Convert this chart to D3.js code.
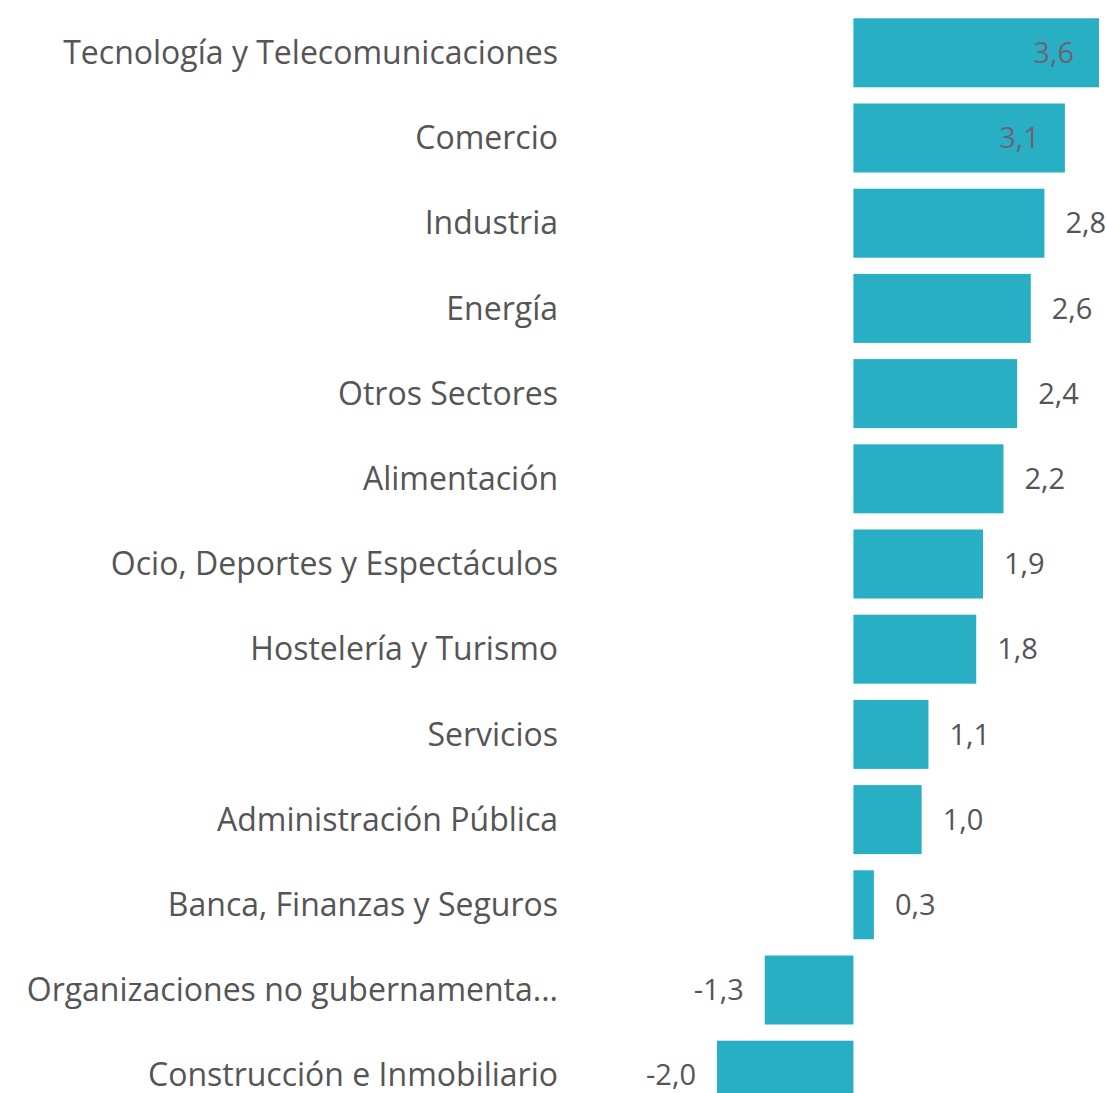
<!DOCTYPE html>
<html>
<head>
<meta charset="utf-8">
<script src="https://cdn.jsdelivr.net/npm/d3@7"></script>
<style>
  body { margin: 0; background: #fff; }
  svg { display: block; }
  .cat-label { font-family: "Open Sans", sans-serif; fill: #555; }
  .val-label { font-family: "Open Sans", sans-serif; }
</style>
</head>
<body>
<svg id="chart"></svg>
<script>
// Sector data
const sectors = [
    "Tecnología y Telecomunicaciones",
    "Comercio",
    "Industria",
    "Energía",
    "Otros Sectores",
    "Alimentación",
    "Ocio, Deportes y Espectáculos",
    "Hostelería y Turismo",
    "Servicios",
    "Administración Pública",
    "Banca, Finanzas y Seguros",
    "Organizaciones no gubernamenta...",
    "Construcción e Inmobiliario"
];
const values = [3.6, 3.1, 2.8, 2.6, 2.4, 2.2, 1.9, 1.8, 1.1, 1.0, 0.3, -1.3, -2.0];

const config = {
    width: 1106,
    height: 1093,
    labelRight: 558,
    barColor: "#29afc4",
    fontSize: 32
};

const data = sectors.map((s, i) => ({ sector: s, value: values[i] }));

const svg = d3.select("#chart")
    .attr("width", config.width)
    .attr("height", config.height);

// row scale
const yScale = d3.scaleBand()
    .domain(sectors)
    .range([10.2, 10.2 + 13 * 85.2])
    .paddingInner(0.19)
    .paddingOuter(0.095);

const xScale = d3.scaleLinear()
    .domain([-2, 3.6])
    .range([717, 1099]);

// comma decimals, plain hyphen for negatives
const fmt = v => d3.format(".1f")(v).replace(".", ",").replace("\u2212", "-");

// category labels
svg.selectAll(".cat-label")
    .data(data)
    .enter()
    .append("text")
    .attr("class", "cat-label")
    .attr("x", config.labelRight)
    .attr("y", d => yScale(d.sector) + yScale.bandwidth() / 2)
    .attr("dy", "0.35em")
    .attr("text-anchor", "end")
    .style("font-size", config.fontSize + "px")
    .text(d => d.sector);

// bars
svg.selectAll(".bar")
    .data(data)
    .enter()
    .append("rect")
    .attr("class", "bar")
    .attr("x", d => xScale(Math.min(0, d.value)))
    .attr("y", d => yScale(d.sector))
    .attr("width", d => Math.abs(xScale(d.value) - xScale(0)))
    .attr("height", yScale.bandwidth())
    .attr("fill", config.barColor);

// value labels: inside the bar end when there is no room on the right
const insideLimit = 3.0;
svg.selectAll(".val-label")
    .data(data)
    .enter()
    .append("text")
    .attr("class", "val-label")
    .attr("x", d => {
        if (d.value < 0) return xScale(d.value) - 21;
        if (d.value > insideLimit) return xScale(d.value) - 25;
        return xScale(d.value) + 21;
    })
    .attr("y", d => yScale(d.sector) + yScale.bandwidth() / 2)
    .attr("dy", "0.35em")
    .attr("text-anchor", d => (d.value < 0 || d.value > insideLimit) ? "end" : "start")
    .style("font-size", (config.fontSize - 3) + "px")
    .style("fill", d => d.value > insideLimit ? "#6a6478" : "#555")
    .text(d => fmt(d.value));
</script>
</body>
</html>
